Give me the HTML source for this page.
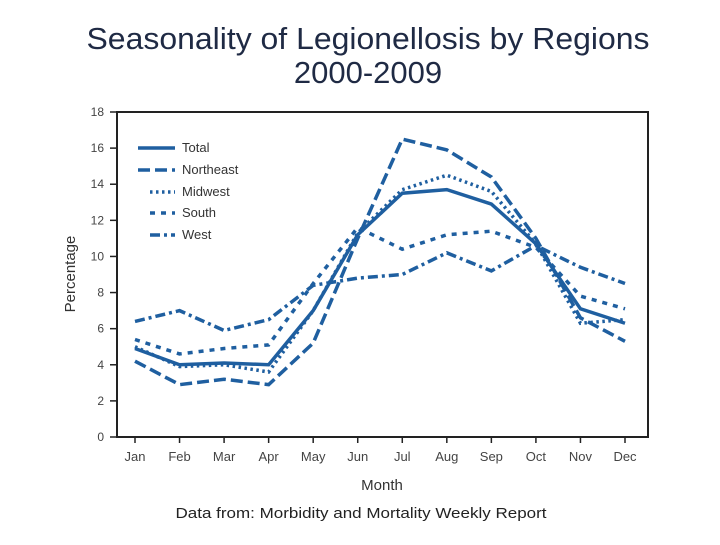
<!DOCTYPE html>
<html><head><meta charset="utf-8"><style>
body{margin:0;background:#fff;width:720px;height:540px;overflow:hidden;font-family:"Liberation Sans",sans-serif}
</style></head><body>
<svg width="720" height="540" id="svg">
<text x="368" y="49" text-anchor="middle" font-size="31" textLength="563" lengthAdjust="spacingAndGlyphs" fill="#1f2a44">Seasonality of Legionellosis by Regions</text>
<text x="368" y="83" text-anchor="middle" font-size="31" fill="#1f2a44">2000-2009</text>
<text x="361" y="518" text-anchor="middle" font-size="15" textLength="371" lengthAdjust="spacingAndGlyphs" fill="#222">Data from: Morbidity and Mortality Weekly Report</text>
<rect x="117" y="112" width="531" height="325" fill="none" stroke="#222" stroke-width="2"/>
<text x="382" y="490" text-anchor="middle" font-size="15" fill="#333">Month</text>
<text transform="translate(75,274) rotate(-90)" text-anchor="middle" font-size="15" fill="#333">Percentage</text>
<g id="axes"></g><g id="series"></g>
<g font-size="13" fill="#333">
<line x1="138" y1="148" x2="175" y2="148" stroke="#1f5fa0" stroke-width="3.5"/><text x="182" y="152">Total</text>
<line x1="138" y1="170" x2="175" y2="170" stroke="#1f5fa0" stroke-width="3.5" stroke-dasharray="12,5"/><text x="182" y="174">Northeast</text>
<line x1="150" y1="192" x2="175" y2="192" stroke="#1f5fa0" stroke-width="3.5" stroke-dasharray="2.5,3.5"/><text x="182" y="196">Midwest</text>
<line x1="150" y1="213" x2="175" y2="213" stroke="#1f5fa0" stroke-width="3.5" stroke-dasharray="5,6"/><text x="182" y="217">South</text>
<line x1="150" y1="235" x2="175" y2="235" stroke="#1f5fa0" stroke-width="3.5" stroke-dasharray="10,4,3,4"/><text x="182" y="239">West</text>
</g>
</svg>
<script>
const months=["Jan","Feb","Mar","Apr","May","Jun","Jul","Aug","Sep","Oct","Nov","Dec"];
const yTicks=[0,2,4,6,8,10,12,14,16,18];
const total=[4.9,4.0,4.1,4.0,7.0,11.2,13.5,13.7,12.9,10.7,7.1,6.3];
const northeast=[4.2,2.9,3.2,2.9,5.2,11.0,16.5,15.9,14.4,11.0,6.6,5.3];
const midwest=[5.0,3.9,4.0,3.6,7.0,11.3,13.7,14.5,13.6,10.7,6.3,6.5];
const south=[5.4,4.6,4.9,5.1,8.5,11.6,10.4,11.2,11.4,10.5,7.8,7.1];
const west=[6.4,7.0,5.9,6.5,8.4,8.8,9.0,10.2,9.2,10.6,9.4,8.5];
const NS="http://www.w3.org/2000/svg";
const xs=i=>135+i*(625-135)/11;
const ys=v=>437-v*(325/18);
const ax=document.getElementById('axes'),sg=document.getElementById('series');
function mk(tag,a,p){const e=document.createElementNS(NS,tag);for(const k in a)e.setAttribute(k,a[k]);p.appendChild(e);return e;}
yTicks.forEach(v=>{
 const l=mk('line',{x1:110,x2:117,y1:ys(v),y2:ys(v),stroke:'#222','stroke-width':1.5},ax);
 
 
 const t=mk('text',{x:104,y:ys(v)+4,'text-anchor':'end','font-size':12,fill:'#444'},ax);t.textContent=v;
 
 
});
months.forEach((m,i)=>{
 const l=mk('line',{x1:xs(i),x2:xs(i),y1:437,y2:443,stroke:'#222','stroke-width':1.5},ax);
 
 
 const t=mk('text',{x:xs(i),y:461,'text-anchor':'middle','font-size':13,fill:'#444'},ax);t.textContent=m;
 
 
});
const ser=[["total",total,""],["northeast",northeast,"12,5"],["midwest",midwest,"2.5,3.5"],["south",south,"5,6"],["west",west,"10,4,3,4"]];
ser.forEach(([n,d,dash])=>{
 const p=mk('polyline',{points:d.map((v,i)=>xs(i)+','+ys(v)).join(' '),fill:'none',stroke:'#1f5fa0','stroke-width':3.5,'stroke-dasharray':dash||'none'},sg);
 
 
});
</script>
</body></html>
